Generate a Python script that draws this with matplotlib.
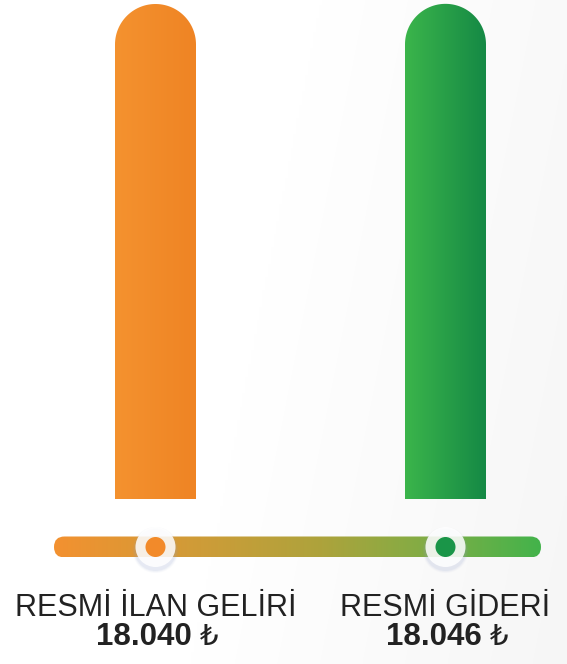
import numpy as np
import matplotlib
matplotlib.use("Agg")
import matplotlib.pyplot as plt
from matplotlib.colors import LinearSegmentedColormap
from matplotlib.patches import PathPatch, FancyBboxPatch, Circle
from matplotlib.path import Path

plt.rcParams["font.family"] = ["Liberation Sans", "DejaVu Sans"]

# data
categories = ["RESMİ İLAN GELİRİ", "RESMİ GİDERİ"]
values = [18040, 18046]
value_labels = ["18.040", "18.046"]
currency = "₺"

bar_cmaps = [
    LinearSegmentedColormap.from_list("orange", ["#F4922F", "#EF8424"]),
    LinearSegmentedColormap.from_list("green", ["#3BB54B", "#158945"]),
]
dot_colors = ["#F28A2A", "#1A9548"]
slider_cmap = LinearSegmentedColormap.from_list(
    "slider", [(0, "#F39130"), (0.3, "#CE9C38"), (0.55, "#ADA33C"), (0.8, "#7AAE46"), (1, "#43B34B")]
)

W, H = 567, 664
fig = plt.figure(figsize=(W / 100, H / 100), dpi=100)

# background (pixel coords)
bg = fig.add_axes([0, 0, 1, 1], zorder=0)
bg.set_xlim(0, W)
bg.set_ylim(H, 0)
bg.axis("off")
xx, yy = np.meshgrid(np.linspace(0, 1, 200), np.linspace(0, 1, 200))
shade = np.clip((xx - 0.5) * 1.3 + (yy - 0.3) * 0.3, 0, 1)
bg_img = np.ones((200, 200, 3)) * (1 - 0.04 * shade)[..., None]
bg.imshow(bg_img, extent=[0, W, H, 0], aspect="auto", interpolation="bilinear")

# bars
bar_bottom_px = 499
ax = fig.add_axes([0, (H - bar_bottom_px) / H, 1, bar_bottom_px / H], zorder=1)
ax.patch.set_alpha(0)
ax.axis("off")
px_per_unit = 290.0
ax.set_xlim(-155.5 / px_per_unit, (W - 155.5) / px_per_unit)
ymax = values[0] * bar_bottom_px / 495.0
ax.set_ylim(0, ymax)
bar_w = 81 / px_per_unit
rx = bar_w / 2
ry = 40.5 * ymax / bar_bottom_px

for i, (v, cmap) in enumerate(zip(values, bar_cmaps)):
    x0, x1 = i - bar_w / 2, i + bar_w / 2
    t = np.linspace(np.pi, 0, 60)
    verts = [(x0, 0), (x0, v - ry)]
    verts += list(zip(i + rx * np.cos(t), v - ry + ry * np.sin(t)))
    verts += [(x1, v - ry), (x1, 0), (x0, 0)]
    codes = [Path.MOVETO] + [Path.LINETO] * (len(verts) - 2) + [Path.CLOSEPOLY]
    patch = PathPatch(Path(verts, codes), fc="none", ec="none")
    ax.add_patch(patch)
    im = ax.imshow(np.linspace(0, 1, 256)[None, :], cmap=cmap, extent=[x0, x1, 0, v],
                   aspect="auto", interpolation="bilinear")
    im.set_clip_path(patch)

# slider + labels (pixel coords)
ov = fig.add_axes([0, 0, 1, 1], zorder=2)
ov.patch.set_alpha(0)
ov.set_xlim(0, W)
ov.set_ylim(H, 0)
ov.axis("off")

sy, sh = 547, 21
sx0, sx1 = 54, 541
track = FancyBboxPatch((sx0, sy - sh / 2), sx1 - sx0, sh,
                       boxstyle=f"round,pad=0,rounding_size={sh / 2}", fc="none", ec="none")
ov.add_patch(track)
sim = ov.imshow(np.linspace(0, 1, 256)[None, :], cmap=slider_cmap,
                extent=[sx0, sx1, sy + sh / 2, sy - sh / 2], aspect="auto", interpolation="bilinear")
sim.set_clip_path(track)

fig.canvas.draw()
to_px = lambda i: ov.transData.inverted().transform(ax.transData.transform((i, 0)))[0]

for i, (cat, lab, dc) in enumerate(zip(categories, value_labels, dot_colors)):
    cx = to_px(i)
    for r, a in [(23, 0.05), (22, 0.08), (21, 0.12)]:
        ov.add_patch(Circle((cx, sy + 3), r, fc="#9AA8D0", ec="none", alpha=a))
    ov.add_patch(Circle((cx, sy), 20, fc="white", ec="none", alpha=0.85))
    ov.add_patch(Circle((cx, sy), 10, fc=dc, ec="none"))
    ov.text(cx, 616, cat, ha="center", va="baseline", fontsize=22, color="#222222")
    ov.text(cx + 36, 645, lab, ha="right", va="baseline", fontsize=22.5, fontweight="bold",
            color="#222222")
    ov.text(cx + 44, 645, currency, ha="left", va="baseline", fontsize=21,
            family="DejaVu Sans", color="#222222")

fig.savefig("out.png", dpi=100)
